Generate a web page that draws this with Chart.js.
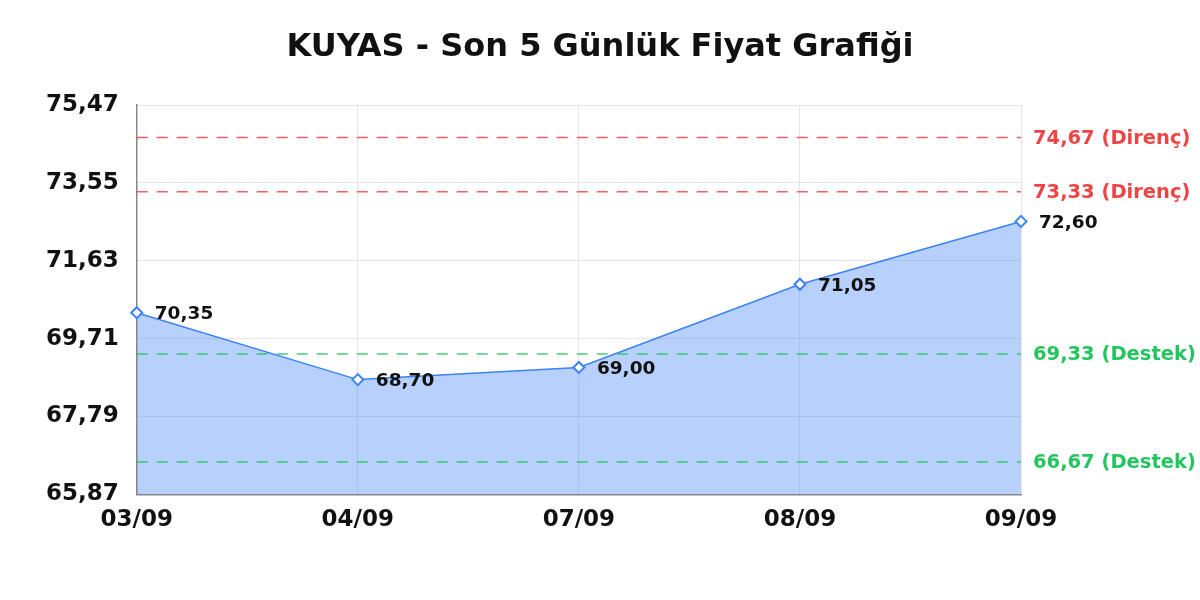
<!DOCTYPE html>
<html>
<head>
<meta charset="utf-8">
<script src="https://cdn.jsdelivr.net/npm/chart.js@4/dist/chart.umd.min.js"></script>
<style>
  html, body { margin: 0; padding: 0; background: #fff; }
  #wrap { width: 1200px; height: 600px; }
</style>
</head>
<body>
<div id="wrap"><canvas id="priceChart"></canvas></div>
<script>
const chartTitle = "KUYAS - Son 5 Günlük Fiyat Grafiği";
const days = ["03/09", "04/09", "07/09", "08/09", "09/09"];
const prices = [70.35, 68.70, 69.00, 71.05, 72.60];
const yTicks = [65.87, 67.79, 69.71, 71.63, 73.55, 75.47];
const resistance = [74.67, 73.33];
const support = [69.33, 66.67];

const fmt = (v) => v.toFixed(2).replace(".", ",");
const FONT = '"DejaVu Sans", sans-serif';

// title centred on the whole canvas, not just the plot
const pageTitle = {
  id: "pageTitle",
  afterDraw(chart) {
    const { ctx, width } = chart;
    ctx.save();
    ctx.fillStyle = "#111";
    ctx.font = "bold 32px " + FONT;
    ctx.textAlign = "center";
    ctx.textBaseline = "middle";
    ctx.fillText(chartTitle, width / 2, 48);
    ctx.restore();
  },
};

// dashed support / resistance lines with labels right of the plot
const levelLines = {
  id: "levelLines",
  afterDatasetsDraw(chart) {
    const { ctx, chartArea, scales } = chart;
    const draw = (value, color, text) => {
      const y = scales.y.getPixelForValue(value);
      ctx.save();
      ctx.strokeStyle = color;
      ctx.globalAlpha = 0.85;
      ctx.lineWidth = 1.5;
      ctx.setLineDash([11, 9]);
      ctx.beginPath();
      ctx.moveTo(chartArea.left, y);
      ctx.lineTo(chartArea.right, y);
      ctx.stroke();
      ctx.restore();
      ctx.save();
      ctx.fillStyle = color;
      ctx.font = "bold 19.5px " + FONT;
      ctx.textBaseline = "middle";
      ctx.fillText(text, chartArea.right + 12, y + 1);
      ctx.restore();
    };
    resistance.forEach((v) => draw(v, "#ef4444", fmt(v) + " (Direnç)"));
    support.forEach((v) => draw(v, "#22c55e", fmt(v) + " (Destek)"));
  },
};

// value labels next to each point
const pointLabels = {
  id: "pointLabels",
  afterDatasetsDraw(chart) {
    const { ctx } = chart;
    const meta = chart.getDatasetMeta(0);
    ctx.save();
    ctx.fillStyle = "#111";
    ctx.font = "bold 18.5px " + FONT;
    ctx.textBaseline = "middle";
    meta.data.forEach((pt, i) => {
      ctx.fillText(fmt(prices[i]), pt.x + 18, pt.y + 2);
    });
    ctx.restore();
  },
};

new Chart(document.getElementById("priceChart"), {
  type: "line",
  data: {
    labels: days,
    datasets: [
      {
        data: prices,
        borderColor: "#3b82f6",
        borderWidth: 1.5,
        backgroundColor: "rgba(59,130,246,0.37)",
        fill: "origin",
        tension: 0,
        pointStyle: "rectRot",
        pointRadius: 5.5,
        pointBorderWidth: 2,
        pointBackgroundColor: "#fff",
        pointBorderColor: "#3b82f6",
      },
    ],
  },
  options: {
    responsive: true,
    maintainAspectRatio: false,
    animation: false,
    layout: { padding: { left: 28, right: 179, top: 105, bottom: 54 } },
    plugins: {
      legend: { display: false },
      tooltip: { enabled: false },
      title: { display: false },
    },
    scales: {
      x: {
        offset: false,
        grid: { color: "#e6e6e6", drawTicks: false },
        border: { color: "#888", width: 1.5 },
        ticks: {
          color: "#111",
          padding: 12,
          maxRotation: 0,
          font: { family: FONT, size: 23, weight: "bold" },
        },
      },
      y: {
        min: yTicks[0],
        max: yTicks[yTicks.length - 1],
        afterBuildTicks(axis) {
          axis.ticks = yTicks.map((v) => ({ value: v }));
        },
        grid: { color: "#e6e6e6", drawTicks: false },
        border: { color: "#888", width: 1.5 },
        ticks: {
          color: "#111",
          padding: 18,
          font: { family: FONT, size: 23, weight: "bold" },
          callback: (v) => fmt(v),
        },
      },
    },
  },
  plugins: [levelLines, pointLabels, pageTitle],
});
</script>
</body>
</html>
